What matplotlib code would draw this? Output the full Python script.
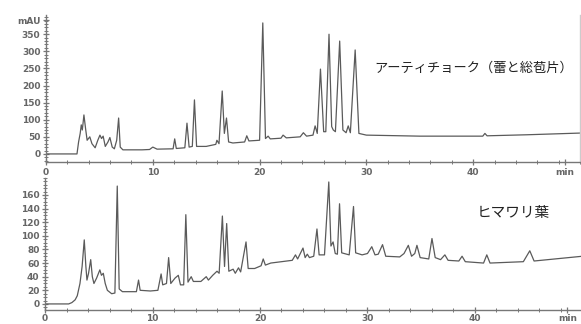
import matplotlib
matplotlib.use('Agg')
import matplotlib.pyplot as plt
from matplotlib.ticker import FixedLocator, MultipleLocator

# artichoke (bud + bracts) trace, vertices
t_top = [0, 2.9, 3.05, 3.2, 3.3, 3.4, 3.55, 3.7, 3.85, 4.1, 4.3, 4.6, 4.85, 5.05, 5.2,
         5.35, 5.55, 5.8, 5.98, 6.2, 6.4, 6.62, 6.8, 6.95, 7.2, 8.0, 9.0, 9.7, 10.0, 10.4,
         11.9, 12.05, 12.2, 13.0, 13.2, 13.4, 13.7, 13.9, 14.1, 15.0, 15.9, 16.0, 16.2,
         16.5, 16.7, 16.9, 17.1, 17.5, 18.6, 18.8, 19.0, 20.0, 20.3, 20.55, 20.8, 21.0,
         22.0, 22.2, 22.5, 23.8, 24.1, 24.4, 25.0, 25.2, 25.4, 25.7, 26.0, 26.2, 26.5,
         26.75, 26.9, 27.1, 27.5, 27.8, 28.1, 28.3, 28.5, 28.95, 29.3, 30.0, 35.0, 40.0,
         40.9, 41.1, 41.3, 45.0, 50.0]
v_top = [0, 0, 35, 60, 85, 70, 114, 75, 40, 50, 30, 18, 40, 55, 45,
         52, 22, 35, 48, 20, 15, 40, 105, 20, 12, 12, 12, 13, 20, 14,
         15, 44, 16, 18, 90, 20, 22, 158, 22, 22, 28, 40, 30,
         184, 60, 105, 35, 32, 35, 53, 38, 40, 383, 45, 52, 44,
         46, 55, 47, 50, 62, 52, 55, 82, 60, 248, 65, 65, 350,
         80, 70, 65, 330, 70, 62, 82, 62, 304, 60, 55, 52, 52,
         52, 60, 53, 56, 61]

# sunflower leaf trace
t_bot = [0, 2.2, 2.5, 2.8, 3.0, 3.25, 3.45, 3.65, 3.8, 3.9, 4.05, 4.25, 4.4, 4.55, 4.8,
         5.1, 5.25, 5.42, 5.6, 5.8, 6.2, 6.5, 6.72, 6.9, 7.2, 8.5, 8.7, 8.85, 9.8, 10.5,
         10.8, 10.95, 11.3, 11.5, 11.7, 12.1, 12.4, 12.6, 12.9, 13.1, 13.3, 13.6, 13.8,
         14.5, 15.0, 15.2, 15.6, 16.0, 16.2, 16.5, 16.7, 16.9, 17.1, 17.5, 17.7, 18.0,
         18.2, 18.7, 18.9, 19.5, 20.1, 20.3, 20.5, 21.0, 22.0, 23.0, 23.3, 23.5, 24.0,
         24.2, 24.4, 24.6, 25.0, 25.3, 25.5, 26.0, 26.4, 26.6, 26.8, 27.0, 27.2, 27.4,
         27.6, 28.3, 28.7, 28.9, 29.5, 30.0, 30.4, 30.7, 31.0, 31.4, 31.7, 33.0, 33.4,
         33.8, 34.1, 34.4, 34.6, 34.9, 35.7, 36.0, 36.3, 36.8, 37.2, 37.5, 38.5, 38.8,
         39.1, 40.8, 41.1, 41.4, 44.5, 45.1, 45.5, 50.0]
v_bot = [0, 0, 2, 6, 12, 30, 55, 94, 55, 35, 45, 65, 40, 30, 38,
         50, 42, 45, 30, 20, 15, 16, 173, 22, 18, 18, 35, 20, 19, 20,
         44, 28, 30, 68, 30, 38, 42, 28, 28, 131, 32, 40, 33,
         33, 40, 35, 42, 48, 45, 129, 55, 118, 48, 51, 45, 53,
         47, 91, 52, 52, 56, 66, 57, 60, 62, 64, 72, 66, 82,
         68, 73, 68, 70, 110, 72, 72, 179, 85, 91, 74, 73, 147,
         75, 72, 143, 75, 72, 74, 84, 72, 73, 87, 70, 69, 74,
         86, 70, 74, 86, 68, 66, 96, 68, 65, 72, 64, 63, 70,
         62, 60, 72, 60, 62, 78, 63, 70]

top_yticks = [0, 50, 100, 150, 200, 250, 300, 350, 391]
top_ylabels = ['0', '50', '100', '150', '200', '250', '300', '350', 'mAU']
bot_yticks = [0, 20, 40, 60, 80, 100, 120, 140, 160, 187]
bot_ylabels = ['0', '20', '40', '60', '80', '100', '120', '140', '160', 'mAU']
xticks = [0, 10, 20, 30, 40, 48.6]
xlabels = ['0', '10', '20', '30', '40', 'min']

fig = plt.figure(figsize=(5.81, 3.24), dpi=100)
ax1 = fig.add_axes([0.0792, 0.4985, 0.919, 0.455])
ax2 = fig.add_axes([0.0775, 0.043, 0.925, 0.408])

line_c = '#5a5a5a'
axis_c = '#777777'

def style(ax, yticks, ylabels, ylim, xpad):
    ax.set_xlim(0, 50)
    ax.set_ylim(*ylim)
    ax.spines['top'].set_visible(False)
    for s in ['left', 'bottom', 'right']:
        ax.spines[s].set_color(axis_c)
        ax.spines[s].set_linewidth(1.0)
    ax.spines['right'].set_color('#cccccc')
    ax.yaxis.set_major_locator(FixedLocator(yticks))
    ax.set_yticklabels(ylabels)
    ax.xaxis.set_major_locator(FixedLocator(xticks))
    ax.set_xticklabels(xlabels)
    ax.xaxis.set_minor_locator(MultipleLocator(2))
    ax.tick_params(axis='both', which='major', colors=axis_c, labelsize=6.5,
                   length=4, width=0.9, pad=2, direction='inout')
    ax.tick_params(axis='x', which='major', pad=xpad)
    ax.tick_params(axis='both', which='minor', colors=axis_c, length=2.5, width=0.7,
                   direction='inout')
    for lb in ax.get_xticklabels() + ax.get_yticklabels():
        lb.set_fontweight('bold')
        lb.set_color('#666666')

ax1.plot(t_top, v_top, color=line_c, lw=0.9)
style(ax1, top_yticks, top_ylabels, (-25, 406), 2)
ax1.yaxis.set_minor_locator(MultipleLocator(10))

ax2.plot(t_bot, v_bot, color=line_c, lw=0.9)
style(ax2, bot_yticks, bot_ylabels, (-9, 185), 0.5)
ax2.yaxis.set_minor_locator(MultipleLocator(5))

jp = ['Noto Sans CJK JP', 'DejaVu Sans']
fig.text(0.645, 0.79, 'アーティチョーク（蕾と総苞片）', family=jp, fontsize=9.5,
         color='#222222', va='center', ha='left')
fig.text(0.821, 0.343, 'ヒマワリ葉', family=jp, fontsize=10.5,
         color='#222222', va='center', ha='left')

fig.savefig('out.png', dpi=100)
